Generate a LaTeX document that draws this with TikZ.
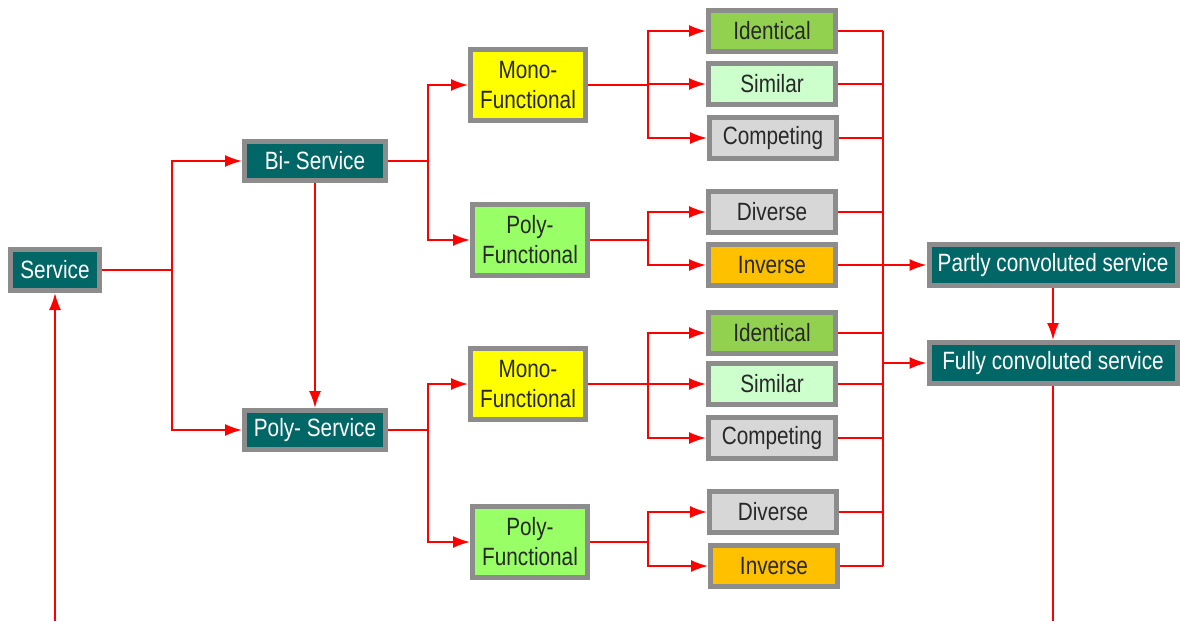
\documentclass[tikz,border=0pt]{standalone}
\usepackage{fontspec}
\setmainfont{Liberation Sans}[FakeStretch=0.83]
\usetikzlibrary{arrows.meta}
\definecolor{teal6}{RGB}{0,102,102}
\definecolor{bordergray}{RGB}{140,140,140}
\definecolor{yel}{RGB}{255,255,0}
\definecolor{lgreen}{RGB}{153,255,102}
\definecolor{idgreen}{RGB}{146,208,80}
\definecolor{simgreen}{RGB}{204,255,204}
\definecolor{lgray}{RGB}{215,215,215}
\definecolor{orng}{RGB}{255,192,0}
\definecolor{txt}{RGB}{40,40,40}
\definecolor{linered}{RGB}{255,0,0}
\begin{document}
\begin{tikzpicture}[x=1pt,y=-1pt,
  box/.style={draw=bordergray,line width=5pt,inner sep=0pt,align=center,
    font=\fontsize{25}{30}\selectfont,text=txt},
  dark/.style={box,fill=teal6,text=white},
  svcbox/.style={dark,minimum width=141pt,minimum height=39pt},
  funcbox/.style={box,minimum width=115pt,minimum height=71pt},
  leaf/.style={box,minimum width=127pt,minimum height=41pt},
  conv/.style={dark,minimum width=248pt,minimum height=41pt},
  conn/.style={draw=linered,line width=2pt},
  arr/.style={conn,-{Latex[length=17pt,width=12pt]}}]
\useasboundingbox (0,0) rectangle (1180,621);
% nodes
\node[dark,minimum width=89pt,minimum height=41pt] (svc) at (55,270) {Service};
\node[svcbox] (bi) at (315,161) {Bi- Service};
\node[svcbox] (poly) at (315,430) {Poly- Service};
\node[funcbox,fill=yel] (m1) at (528,85) {Mono-\\Functional};
\node[funcbox,fill=lgreen] (p1) at (530,240) {Poly-\\Functional};
\node[funcbox,fill=yel] (m2) at (528,384) {Mono-\\Functional};
\node[funcbox,fill=lgreen] (p2) at (530,542) {Poly-\\Functional};
\node[leaf,fill=idgreen] (id1) at (772,31) {Identical};
\node[leaf,fill=simgreen] (sim1) at (772,84) {Similar};
\node[leaf,fill=lgray] (comp1) at (773,138) {Competing};
\node[leaf,fill=lgray] (div1) at (772,212) {Diverse};
\node[leaf,fill=orng] (inv1) at (772,265) {Inverse};
\node[leaf,fill=idgreen] (id2) at (772,333) {Identical};
\node[leaf,fill=simgreen] (sim2) at (772,384) {Similar};
\node[leaf,fill=lgray] (comp2) at (772,438) {Competing};
\node[leaf,fill=lgray] (div2) at (773,512) {Diverse};
\node[leaf,fill=orng] (inv2) at (774,566) {Inverse};
\node[conv] (partly) at (1053,265) {Partly convoluted service};
\node[conv] (fully) at (1053,363) {Fully convoluted service};
\coordinate (busT) at (883,31);
\coordinate (busB) at (883,566);
\coordinate (busF) at (883,363);
\coordinate (loopR) at (1053,621);
\coordinate (loopL) at (55,621);
% connectors
\draw[arr] (svc.east) -- ++(70,0) |- (bi);
\draw[arr] (svc.east) -- ++(70,0) |- (poly);
\draw[arr] (bi) -- (poly);
\draw[arr] (bi.east) -- ++(40,0) |- (m1);
\draw[arr] (bi.east) -- ++(40,0) |- (p1);
\draw[arr] (poly.east) -- ++(40,0) |- (m2);
\draw[arr] (poly.east) -- ++(40,0) |- (p2);
\foreach \s/\t in {m1/id1,m1/sim1,m1/comp1,m2/id2,m2/sim2,m2/comp2}
  \draw[arr] (\s.east) -- ++(60,0) |- (\t);
\foreach \s/\t in {p1/div1,p1/inv1,p2/div2,p2/inv2}
  \draw[arr] (\s.east) -- ++(58,0) |- (\t);
\foreach \s in {id1,sim1,comp1,div1,inv1,id2,sim2,comp2,div2,inv2}
  \draw[conn] (\s.east) -- (\s.east -| busT);
\draw[conn] (busT) -- (busB);
\draw[arr] (inv1.east) -- (partly);
\draw[arr] (busF) -- (fully);
\draw[arr] (partly) -- (fully);
\draw[conn] (fully) -- (loopR);
\draw[arr] (loopL) -- (svc);
\end{tikzpicture}
\end{document}
